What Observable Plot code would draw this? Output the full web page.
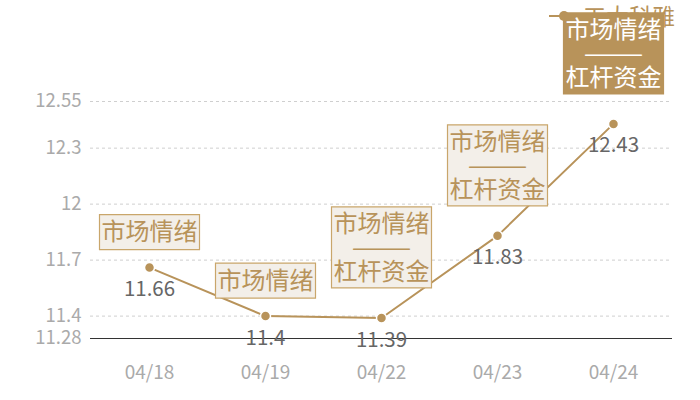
<!DOCTYPE html>
<html>
<head>
<meta charset="utf-8">
<script src="https://cdn.jsdelivr.net/npm/d3@7"></script>
<script src="https://cdn.jsdelivr.net/npm/@observablehq/plot@0.6"></script>
<style>
  body { margin: 0; background: #fff; font-family: "Noto Sans CJK SC", sans-serif; }
  #wrap { position: relative; width: 700px; height: 400px; }
  #legend { position: absolute; top: 2px; left: 549px; display: flex; align-items: center; color: #b8935a; font-size: 23px; line-height: 26px; z-index: 0; white-space: nowrap; }
  #chart { position: absolute; top: 0; left: 0; z-index: 1; }
  #chart svg { background: transparent; }
</style>
</head>
<body>
<div id="wrap">
  <div id="legend"><svg width="32" height="26"><line x1="0" y1="14" x2="32" y2="14" stroke="#b8935a" stroke-width="2"/><circle cx="15" cy="14" r="5" fill="#b8935a"/></svg><span style="margin-left:2px">工大科雅</span></div>
  <div id="chart"></div>
</div>
<script>
const seriesName = "工大科雅";
const dates = ["04/18", "04/19", "04/22", "04/23", "04/24"];
const prices = [11.66, 11.4, 11.39, 11.83, 12.43];
const tags = ["市场情绪", "市场情绪", "市场情绪\n———\n杠杆资金", "市场情绪\n———\n杠杆资金", "市场情绪\n———\n杠杆资金"];
const highlighted = [false, false, false, false, true];
const yTicks = [11.28, 11.4, 11.7, 12, 12.3, 12.55];

const gold = "#b8935a";
const light = "#f3efe9";
const border = "#c9a66b";
const data = dates.map((d, i) => ({date: d, price: prices[i], tag: tags[i], hi: highlighted[i], lines: tags[i].split("\n").length}));
const single = data.filter(d => d.lines === 1);
const multi = data.filter(d => d.lines > 1);

// box symbols (sizes only; positions come from the scales)
const boxSingle = {draw(ctx) { ctx.rect(-50, -17.5, 100, 35); }};
const boxMulti = {draw(ctx) { ctx.rect(-50, -40.5, 100, 81); }};

const textOpts = {x: "date", y: "price", text: "tag", fontSize: 24, lineHeight: 1.0, lineAnchor: "middle"};

const chart = Plot.plot({
  width: 700,
  height: 400,
  marginTop: 101,
  marginBottom: 62,
  marginLeft: 90,
  marginRight: 28,
  style: {fontFamily: "Noto Sans CJK SC", background: "transparent"},
  x: {type: "point", domain: dates, padding: 0.5},
  y: {domain: [yTicks[0], yTicks[yTicks.length - 1]]},
  marks: [
    Plot.gridY(yTicks.slice(1), {stroke: "#cfcfcf", strokeOpacity: 1, strokeDasharray: "3,3"}),
    Plot.ruleY([yTicks[0]], {stroke: "#333", strokeWidth: 1.2}),
    Plot.axisY({ticks: yTicks, tickSize: 0, tickPadding: 9, fontSize: 18.5, color: "#aaa", label: null, tickFormat: d => String(d)}),
    Plot.axisX({tickSize: 0, tickPadding: 27, fontSize: 19, color: "#aaa", label: null}),
    Plot.line(data, {x: "date", y: "price", stroke: gold, strokeWidth: 2}),
    Plot.dot(data, {x: "date", y: "price", r: 5, fill: gold, stroke: "white", strokeWidth: 1.5}),
    Plot.text(data, {x: "date", y: "price", text: d => String(d.price), dy: 22, fill: "#666", fontSize: 20.5}),
    Plot.dot(single, {x: "date", y: "price", symbol: boxSingle, dy: -35.5, fill: d => d.hi ? gold : light, stroke: d => d.hi ? gold : border, strokeWidth: 1.2}),
    Plot.dot(multi, {x: "date", y: "price", symbol: boxMulti, dy: -70.5, fill: d => d.hi ? gold : light, stroke: d => d.hi ? gold : border, strokeWidth: 1.2}),
    Plot.text(single, {...textOpts, dy: -35, fill: d => d.hi ? "#fff" : gold}),
    Plot.text(multi, {...textOpts, dy: -70, fill: d => d.hi ? "#fff" : gold})
  ]
});
document.getElementById("chart").appendChild(chart);
</script>
</body>
</html>
